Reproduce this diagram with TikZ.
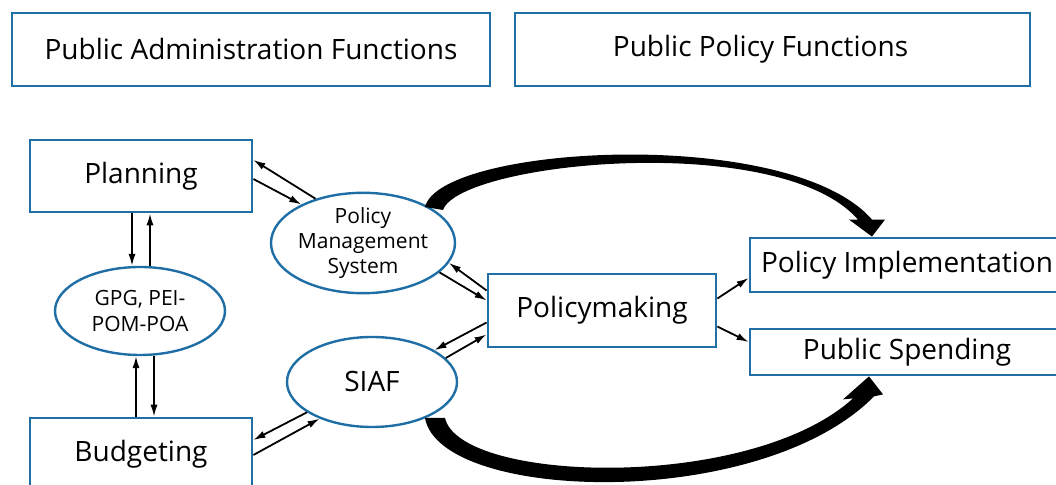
\documentclass[tikz,border=0pt]{standalone}
\usepackage{fontspec}
\setmainfont{Open Sans}
\usetikzlibrary{shapes.geometric,arrows.meta,calc}
\definecolor{frameblue}{HTML}{1F6EA6}
\begin{document}
\begin{tikzpicture}[x=0.5pt,y=-0.5pt,
        box/.style={draw=frameblue,line width=1.4pt,inner sep=0pt,font=\fontsize{14pt}{16pt}\selectfont},
        oval/.style={ellipse,draw=frameblue,line width=1.2pt,inner sep=0pt,align=center},
        link/.style={line width=0.9pt,-{Latex[length=6pt,width=3.6pt]}}]
    \useasboundingbox (0,0) rectangle (1056,485);
    \node[box,minimum width=239pt,minimum height=36.5pt] (paf) at (251,49.5) {Public Administration Functions};
    \node[box,minimum width=257.5pt,minimum height=36.5pt] (ppf) at (772.5,49.5) {Public Policy Functions\hspace*{12pt}};
    \node[box,minimum width=111pt,minimum height=36pt] (plan) at (141,176) {Planning};
    \node[box,minimum width=111pt,minimum height=36pt] (budget) at (141,454) {Budgeting};
    \node[oval,minimum width=85pt,minimum height=44pt,font=\fontsize{10.5pt}{13pt}\selectfont] (gpg) at (140,311) {GPG, PEI-\\POM-POA};
    \node[oval,minimum width=85pt,minimum height=49pt,font=\fontsize{10.5pt}{12.5pt}\selectfont] (pms) at (363,243) {Policy\\Management\\System};
    \node[oval,minimum width=85pt,minimum height=45pt,font=\fontsize{14pt}{16pt}\selectfont] (siaf) at (372,382) {SIAF};
    \node[box,minimum width=114pt,minimum height=36.5pt] (pmake) at (602,310.5) {Policymaking};
    \node[box,minimum width=157pt,minimum height=27pt] (impl) at (907,265) {Policy Implementation};
    \node[box,minimum width=157pt,minimum height=23pt] (spend) at (907,352) {Public Spending};

    \draw[link] (pms.137) -- ([yshift=8pt]plan.east);
    \draw[link] ([yshift=-1.5pt]plan.east) -- (pms.148);
    \draw[link] ([xshift=-4.5pt]plan.south) -- ([xshift=-4.5pt]plan.south |- gpg.north);
    \draw[link] ([xshift=4.5pt]plan.south |- gpg.north) -- ([xshift=4.5pt]plan.south);
    \draw[link] ([xshift=-2.5pt]budget.north) -- ([xshift=-2.5pt]budget.north |- gpg.south);
    \draw[link] ([xshift=6.5pt]budget.north |- gpg.south) -- ([xshift=6.5pt]budget.north);
    \draw[link] (siaf.205) -- ([yshift=7pt]budget.east);
    \draw[link] ([yshift=-0.5pt]budget.east) -- (siaf.215);
    \draw[link] ([yshift=10pt]pmake.west) -- (pms.-13);
    \draw[link] (pms.-21) -- ([yshift=5pt]pmake.west);
    \draw[link] ([yshift=-6pt]pmake.west) -- (siaf.27);
    \draw[link] (siaf.18) -- ([yshift=-12pt]pmake.west);
    \draw[link] ([yshift=6pt]pmake.east) -- ([yshift=-6.5pt]impl.west);
    \draw[link] ([yshift=-8pt]pmake.east) -- ([yshift=5pt]spend.west);

    \coordinate (toptip) at ($(impl.north)+(-35,0)$);
    \coordinate (bottip) at ($(spend.south)+(-38,0)$);
    \fill ($(pms.center)+(62,-36)$) .. controls (440,145) and (790,125) .. ($(toptip)+(0,-17)$)
        -- ($(toptip)+(13,-17)$) -- (toptip) -- ($(toptip)+(-23,-17)$) -- ($(toptip)+(-14,-17)$)
        .. controls (780,130) and (460,162) .. ($(pms.center)+(80,-33)$) -- cycle;
    \fill ($(siaf.center)+(53,36)$) .. controls (440,502) and (760,512) .. ($(bottip)+(5,20)$)
        -- ($(bottip)+(14,18)$) -- (bottip) -- ($(bottip)+(-26,23)$) -- ($(bottip)+(-16,22)$)
        .. controls (750,492) and (460,483) .. ($(siaf.center)+(73,36)$) -- cycle;
\end{tikzpicture}
\end{document}
